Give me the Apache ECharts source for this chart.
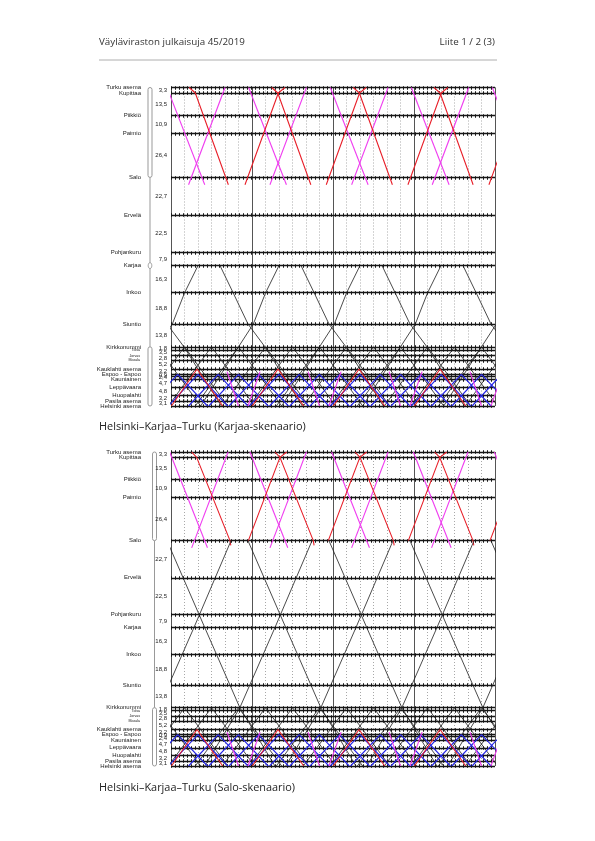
<!DOCTYPE html>
<html><head><meta charset="utf-8">
<script src="https://cdn.jsdelivr.net/npm/echarts@6/dist/echarts.min.js"></script>
<style>html,body{margin:0;padding:0;background:#fff}#c{width:595px;height:841px}</style>
</head><body><div id="c"></div>
<script>
// ---- stations (km from Turku) ----
const stationNames = ['Turku asema','Kupittaa','Piikkiö','Paimio','Salo','Ervelä','Pohjankuru','Karjaa','Inkoo','Siuntio','Kirkkonummi','Tolsa','Jorvas','Masala','Kauklahti asema','Espoo - Espoo','Tuomarila','Kauniainen','Leppävaara','Huopalahti','Pasila asema','Helsinki asema'];
const stationKm = [0,3.3,16.8,27.7,54.1,76.8,99.3,107.2,123.5,142.3,156.1,157.9,161.4,164.2,169.4,172.6,173.5,175.9,180.6,185.4,188.6,191.7];
const distLabels = ['3,3','13,5','10,9','26,4','22,7','22,5','7,9','16,3','18,8','13,8','1,8','3,5','2,8','5,2','3,2','0,9','2,4','4,7','4,8','3,2','3,1'];
const smallStations = ['Tolsa','Jorvas','Masala'];
const hiddenStations = ['Tuomarila'];
const hourLines = [0,60,120,180,240];
const titles = ['Helsinki–Karjaa–Turku (Karjaa-skenaario)','Helsinki–Karjaa–Turku (Salo-skenaario)'];

// ---- train run profiles [minutes from departure, km] ----
const magDownP = [[0,0],[28,58.5]];
const magUpP = [[0,58.5],[27,0]];
const redDownP = [[0,0],[4.5,3.3],[29,58.5]];
const redUpP = [[0,58.5],[24.7,3.3],[29.6,0]];
const icKDownP = [[0,107.2],[9.7,123.5],[20.7,142.3],[33.3,156.1],[61,191.7]];
const icKUpP = [[0,191.7],[28,156.1],[39,142.3],[48.1,123.5],[58,107.2]];
const redDown2P = [[0,0],[3.7,3.3],[28.4,54.1],[29,57]];
const redUp2P = [[0,54.1],[23.4,3.3],[28.4,0]];
const icSDownP = [[0,54.1],[28,107.2],[54,156.1],[80,191.7]];
const icSUpP = [[0,191.7],[26,156.1],[52,107.2],[79.5,54.1]];
const comUpP = [[0,191.7],[32,156.1]];
const comDownP = [[0,156.1],[32,191.7]];
const blueUpP = [[0,191.7],[22,172.6]];
const blueDownP = [[0,172.6],[22,191.7]];
const redLocUpP = [[0,191.7],[19,169.4]];
const redLocDownP = [[0,169.4],[19,191.7]];
const magLocDownP = [[0,171],[8.5,191.7]];
const magLocUpP = [[0,191.7],[9,171]];

// ---- departures (minutes) ----
const c1MagDown = [-3,57.5,118,178,238];
const c1MagUp = [13,73.3,133.8,193.5];
const c1RedDown = [13.5,74.6,135,194.8];
const c1RedUp = [54.8,115,175.5,235.5];
const c1IcKDown = [-23.7,36.3,96.3,156.3,216.3];
const c1IcKUp = [-38,22,82,142,202];
const c2MagDown = [-1,58.5,119,179.5,239.5];
const c2MagUp = [15.3,73.3,133.8,193];
const c2RedDown = [15.3,77,136.3,195.3];
const c2RedUp = [57.3,116.5,175.8,236.3];
const c2IcSDown = [-3,57,117,177,237];
const c2IcSUp = [-35,25,85,145,205];
const comUp = [-22,-2,18,38,58,78,98,118,138,158,178,198,218];
const comDown = [-10,10,30,50,70,90,110,130,150,170,190,210,230];
const blueUp = [-17,-2,13,28,43,58,73,88,103,118,133,148,163,178,193,208,223];
const blueDown = [5,20,35,50,65,80,95,110,125,140,155,170,185,200,215,230];
const redLocUp = [0.3,60.3,120.3,180.3];
const redLocDown = [19.3,79.3,139.3,199.3];
const magLocDown = [41.5,101.5,161.5,221.5];
const magLocUp = [57,117,177,237];

const C = {red:'#e8202a', mag:'#f03cf0', blue:'#2323e6', black:'#1e1e1e'};
const GRIDS = [{left:171,top:87.5,width:324,height:318.5},{left:171,top:452,width:324,height:314}];
const FONT = 'Liberation Sans';

const chart = echarts.init(document.getElementById('c'), null, {width:595, height:841});

function trainSeries(gi, profile, deps, color, width) {
  return deps.map(d => ({
    type:'line', xAxisIndex:gi, yAxisIndex:gi, silent:true, animation:false, clip:true,
    showSymbol:false, symbol:'none', z:5,
    data: profile.map(p => [d + p[0], p[1]]),
    lineStyle:{color:color, width:width}
  }));
}

function helperSeries(gi) {
  const base = {type:'line', xAxisIndex:gi, yAxisIndex:gi, silent:true, animation:false,
    data:[], showSymbol:false, symbol:'none', lineStyle:{opacity:0}};
  const mid = distLabels.map((l,i) => ({name:l, yAxis:(stationKm[i]+stationKm[i+1])/2}));
  return [
    Object.assign({}, base, {z:2, markLine:{silent:true, symbol:['none','none'], animation:false,
      lineStyle:{color:'#555', width:1, type:'solid'}, label:{show:false},
      data: hourLines.map(h => ({xAxis:h}))}}),
    Object.assign({}, base, {z:3, markLine:{silent:true, symbol:['none','none'], animation:false,
      lineStyle:{color:'#161616', width:1.3, type:'solid'},
      label:{show:true, position:'start', distance:30, formatter:'{b}', fontSize:6, color:'#222', fontFamily:FONT},
      data: stationNames.map((n,i) => {
        const it = {name:n, yAxis:stationKm[i]};
        if (smallStations.includes(n)) it.label = {fontSize:3.6, distance:31};
        if (hiddenStations.includes(n)) it.label = {show:false};
        return it;
      })}}),
    Object.assign({}, base, {z:3, markLine:{silent:true, symbol:['none','none'], animation:false,
      lineStyle:{color:'#161616', width:3.5, type:[1,3]}, label:{show:false},
      data: stationKm.map(k => ({yAxis:k}))}}),
    Object.assign({}, base, {z:3, markLine:{silent:true, symbol:['none','none'], animation:false,
      lineStyle:{color:'rgba(0,0,0,0)', width:1, type:'solid'},
      label:{show:true, position:'start', distance:4, formatter:'{b}', fontSize:6, color:'#222', fontFamily:FONT},
      data: mid}})
  ];
}

const xAxes = [], yAxes = [], series = [];
GRIDS.forEach((g,gi) => {
  xAxes.push({gridIndex:gi, type:'value', min:0, max:240, interval:10,
    axisLine:{show:false}, axisTick:{show:false}, axisLabel:{show:false},
    splitLine:{show:true, lineStyle:{color:'#a8a8a8', width:1, type:[1,2]}}});
  yAxes.push({gridIndex:gi, type:'value', min:0, max:191.7, inverse:true,
    axisLine:{show:false}, axisTick:{show:false}, axisLabel:{show:false}, splitLine:{show:false}});
  series.push(...helperSeries(gi));
});

// chart 1: Karjaa scenario
series.push(...trainSeries(0, magDownP, c1MagDown, C.mag, 1.1));
series.push(...trainSeries(0, magUpP, c1MagUp, C.mag, 1.1));
series.push(...trainSeries(0, redDownP, c1RedDown, C.red, 1.1));
series.push(...trainSeries(0, redUpP, c1RedUp, C.red, 1.1));
series.push(...trainSeries(0, icKDownP, c1IcKDown, C.black, 0.8));
series.push(...trainSeries(0, icKUpP, c1IcKUp, C.black, 0.8));
// chart 2: Salo scenario
series.push(...trainSeries(1, magDownP, c2MagDown, C.mag, 1.1));
series.push(...trainSeries(1, magUpP, c2MagUp, C.mag, 1.1));
series.push(...trainSeries(1, redDown2P, c2RedDown, C.red, 1.1));
series.push(...trainSeries(1, redUp2P, c2RedUp, C.red, 1.1));
series.push(...trainSeries(1, icSDownP, c2IcSDown, C.black, 0.8));
series.push(...trainSeries(1, icSUpP, c2IcSUp, C.black, 0.8));
// Helsinki area (both)
[0,1].forEach(gi => {
  series.push(...trainSeries(gi, comUpP, comUp, C.black, 0.8));
  series.push(...trainSeries(gi, comDownP, comDown, C.black, 0.8));
  series.push(...trainSeries(gi, blueUpP, blueUp, C.blue, 1.1));
  series.push(...trainSeries(gi, blueDownP, blueDown, C.blue, 1.1));
  series.push(...trainSeries(gi, redLocUpP, redLocUp, C.red, 1.1));
  series.push(...trainSeries(gi, redLocDownP, redLocDown, C.red, 1.1));
  series.push(...trainSeries(gi, magLocDownP, magLocDown, C.mag, 1.1));
  series.push(...trainSeries(gi, magLocUpP, magLocUp, C.mag, 1.1));
});

chart.setOption({
  animation:false,
  grid: GRIDS.map(g => Object.assign({containLabel:false}, g)),
  xAxis: xAxes, yAxis: yAxes, series: series
});

// decorations: header, captions, track bars
const gr = [
  {type:'text', left:99, top:37, style:{text:'Väyläviraston julkaisuja 45/2019', font:'9.8px "Open Sans"', fill:'#333'}},
  {type:'text', right:100, top:37, style:{text:'Liite 1 / 2 (3)', font:'9.8px "Open Sans"', fill:'#333'}},
  {type:'line', shape:{x1:99, y1:60, x2:497, y2:60}, style:{stroke:'#999', lineWidth:0.8}},
];
const capY = [428, 789];
titles.forEach((t,i) => gr.push({type:'text', left:99, top:capY[i]-7, style:{text:t, font:'10.9px "Open Sans"', fill:'#222'}}));
const barX = [150, 154.5];
[0,1].forEach(gi => {
  const py = km => chart.convertToPixel({gridIndex:gi}, [0, km])[1];
  const x = barX[gi];
  const yT = py(0), yS = py(54.1), yK = py(156.1), yH = py(191.7), yKa = py(107.2);
  gr.push({type:'rect', shape:{x:x-2, y:yT, width:4, height:yS-yT, r:2}, style:{fill:'none', stroke:'#999', lineWidth:1}});
  gr.push({type:'line', shape:{x1:x, y1:yS, x2:x, y2:yK}, style:{stroke:'#999', lineWidth:1}});
  gr.push({type:'rect', shape:{x:x-2, y:yK, width:4, height:yH-yK, r:2}, style:{fill:'none', stroke:'#999', lineWidth:1}});
  if (gi === 0) gr.push({type:'ellipse', shape:{cx:x, cy:yKa, rx:1.8, ry:3}, style:{fill:'#fff', stroke:'#999', lineWidth:1}});
});
chart.setOption({graphic: gr});
</script>
</body></html>
